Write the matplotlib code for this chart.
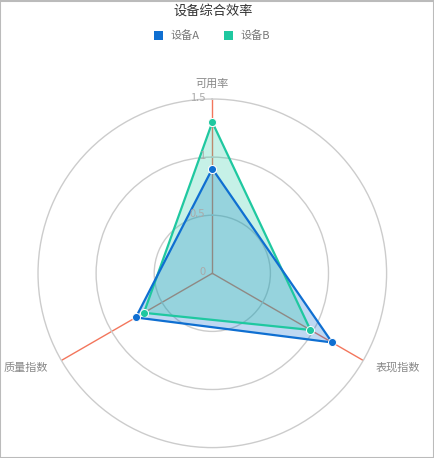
import numpy as np
import matplotlib
matplotlib.use('Agg')
import matplotlib.pyplot as plt
from matplotlib.patches import Patch, Rectangle

categories = ['可用率', '表现指数', '质量指数']
series_names = ['设备A', '设备B']
device_a = [0.9, 1.19, 0.76]
device_b = [1.3, 0.975, 0.68]
r_ticks = [0, 0.5, 1, 1.5]
r_tick_labels = ['0', '0.5', '1', '1.5']
title = '设备综合效率'


def main():
    plt.rcParams['font.family'] = ['Noto Sans CJK SC', 'DejaVu Sans']

    blue = '#0f6fd1'
    teal = '#1fc8a0'
    orange = '#f3765c'

    fig = plt.figure(figsize=(4.35, 4.58), dpi=100)
    ax = fig.add_axes([0.08736, 0.0227, 0.8014, 0.7611], projection='polar')
    ax.set_theta_offset(np.pi / 2)
    ax.set_theta_direction(-1)
    ax.set_ylim(0, 1.5)

    angles = np.arange(len(categories)) * 2 * np.pi / len(categories)

    # rings
    ax.set_yticks(r_ticks[1:-1])
    ax.set_yticklabels([])
    ax.set_xticks([])
    ax.yaxis.grid(True, color='#cccccc', linewidth=1.0)
    ax.xaxis.grid(False)
    ax.spines['polar'].set_color('#cccccc')
    ax.spines['polar'].set_linewidth(1.0)

    # axis lines
    for a in angles:
        ax.plot([a, a], [0, 1.5], color=orange, linewidth=1.0, zorder=1)

    # series (teal area on top of blue area)
    closed = np.concatenate([angles, angles[:1]])
    for vals, color, alpha, z in [(device_a, blue, 0.27, 2), (device_b, teal, 0.25, 3)]:
        v = np.concatenate([vals, vals[:1]])
        ax.fill(closed, v, color=color, alpha=alpha, linewidth=0, zorder=z)
    for vals, color, z in [(device_b, teal, 4), (device_a, blue, 5)]:
        v = np.concatenate([vals, vals[:1]])
        ax.plot(closed, v, color=color, linewidth=1.6, zorder=z,
                marker='o', markersize=5.8, markeredgecolor='white', markeredgewidth=0.7)

    # radial labels
    for r, lab in zip(r_ticks, r_tick_labels):
        ax.annotate(lab, xy=(0, r), xytext=(-7, 1), textcoords='offset pixels',
                    ha='right', va='center', fontsize=8, color='#aaaaaa', zorder=6)

    # category labels
    offsets = [((0, 15), 'center'), ((12, -7), 'left'), ((-13, -7), 'right')]
    for a, cat, (off, ha) in zip(angles, categories, offsets):
        ax.annotate(cat, xy=(a, 1.5), xytext=off, textcoords='offset pixels',
                    ha=ha, va='center', fontsize=8, color='#888888',
                    annotation_clip=False)

    fig.text(0.49, 1 - 11 / 458, title, ha='center', va='center', fontsize=9.5, color='#333333')

    handles = [Patch(facecolor=blue, edgecolor='none'), Patch(facecolor=teal, edgecolor='none')]
    fig.legend(handles, series_names, loc='center', bbox_to_anchor=(0.487, 1 - 36 / 458),
               ncol=2, frameon=False, fontsize=8, labelcolor='#777777',
               handlelength=0.8, handleheight=0.8, handletextpad=0.7, columnspacing=2.2)

    fig.patches.append(Rectangle((0.001, 0.001), 0.997, 0.997, transform=fig.transFigure,
                                 fill=False, edgecolor='#bbbbbb', linewidth=1.5))

    plt.savefig('out.png', dpi=100)
    plt.close()


if __name__ == '__main__':
    main()
